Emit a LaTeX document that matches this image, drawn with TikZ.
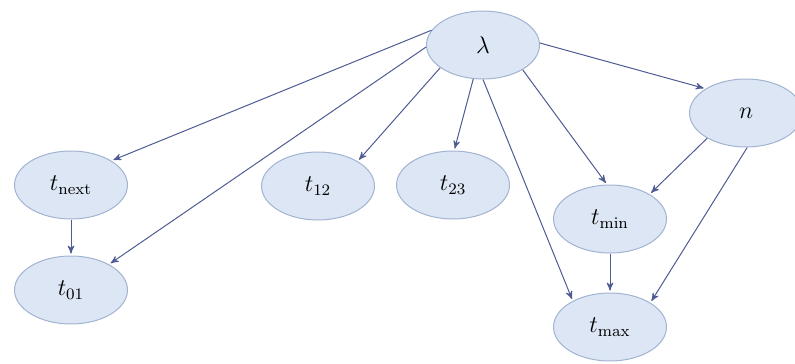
\documentclass[tikz,border=0pt]{standalone}
\usepackage{tikz}
\usetikzlibrary{shapes.geometric, arrows}
\usepackage{color}

\definecolor{varfill}{HTML}{DCE6F4}
\definecolor{varline}{HTML}{A3B4D2}
\definecolor{edgecol}{HTML}{4F5B93}

\begin{document}
\begin{tikzpicture}[->,>=stealth',shorten >=1pt,x=0.5pt,y=-0.5pt,line width=0.5pt,
                    var/.style={ellipse,draw=varline,fill=varfill,minimum width=56.5pt,minimum height=34pt,inner sep=0pt,font=\large},
                    every edge/.style={draw=edgecol}]
                \useasboundingbox (0,0) rectangle (795,363);
                \node[var] (lam) at (483,45) {$\lambda$};
                \node[var] (n) at (746,113) {$n$};
                \node[var] (tnext) at (71,185) {$t_{\mathrm{next}}$};
                \node[var] (t01) [below of = tnext, node distance=52.5pt] {$t_{01}$};
                \node[var] (t12) at (318,186) {$t_{12}$};
                \node[var] (t23) at (453,185) {$t_{23}$};
                \node[var] (tmin) at (610,219) {$t_{\mathrm{min}}$};
                \node[var] (tmax) [below of = tmin, node distance=54pt] {$t_{\mathrm{max}}$};
                
                
                \path
                (lam.164) edge (tnext.31)
                (lam.182) edge (t01.34)
                (lam.208) edge (t12.32)
                (lam.254) edge (t23.88)
                (lam.270) edge (tmax.145)
                (lam.328) edge (tmin.95)
                (lam.2) edge (n.149)
                (n.213) edge (tmin.32)
                (n.272) edge (tmax.31)
                (tmin) edge (tmax)
                (tnext) edge (t01)
                ;
            \end{tikzpicture}
\end{document}
